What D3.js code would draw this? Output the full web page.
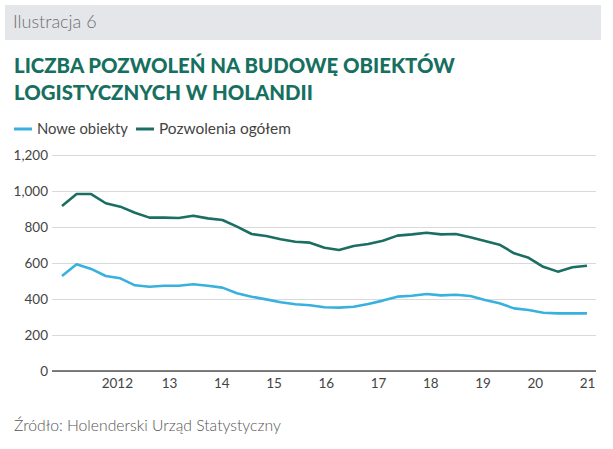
<!DOCTYPE html>
<html>
<head>
<meta charset="utf-8">
<script src="https://cdn.jsdelivr.net/npm/d3@7"></script>
<style>
  body { margin: 0; background: #fff; }
  svg { display: block; }
</style>
</head>
<body>
<script>
// values, one point every ~3.3 months from early 2011 to 2021
const nowe = [528, 593, 567, 528, 515, 476, 468, 474, 474, 482, 474, 463, 432, 413, 398, 382, 371, 365, 354,
              352, 357, 372, 391, 413, 418, 428, 420, 424, 417, 394, 376, 348, 339, 324, 320, 320, 320];
const ogolem = [917, 983, 983, 932, 913, 879, 852, 852, 850, 863, 848, 839, 802, 761, 750, 732, 718, 713, 685,
                672, 694, 706, 724, 752, 759, 768, 759, 761, 743, 722, 702, 654, 629, 579, 552, 576, 585];
const firstPeriod = 2010.95;
const lastPeriod = 2021;

const yTicks = [0, 200, 400, 600, 800, 1000, 1200];
const xTicks = [2012, 2013, 2014, 2015, 2016, 2017, 2018, 2019, 2020, 2021];
const xTickLabels = ['2012', '13', '14', '15', '16', '17', '18', '19', '20', '21'];

const seriesNames = ['Nowe obiekty', 'Pozwolenia ogółem'];
const colors = ['#38b1df', '#1b6f62'];

const width = 613, height = 449;
const margin = {top: 155, right: 17, bottom: 78, left: 52};

const svg = d3.select('body').append('svg')
  .attr('width', width)
  .attr('height', height);

// shrink/grow a text node so it spans w pixels
function fitWidth(sel, size, w) {
  const cur = sel.node().getComputedTextLength();
  sel.attr('font-size', size * w / cur);
}

// header band
svg.append('rect')
  .attr('x', 5).attr('y', 5)
  .attr('width', 596).attr('height', 35)
  .attr('fill', '#e4e6e9');

svg.append('text')
  .attr('x', 13).attr('y', 28)
  .attr('font-family', 'Lato, sans-serif')
  .attr('font-weight', 300)
  .attr('font-size', 18)
  .attr('fill', '#6d6f72')
  .text('Ilustracja 6');

// title, squeezed to the width in the picture
const titleLines = ['LICZBA POZWOLEŃ NA BUDOWĘ OBIEKTÓW', 'LOGISTYCZNYCH W HOLANDII'];
const title = svg.append('g');
titleLines.forEach((t, i) => {
  title.append('text')
    .attr('x', 14).attr('y', 73 + i * 27)
    .attr('font-family', 'Lato, sans-serif')
    .attr('font-weight', 900)
    .attr('font-size', 21)
    .attr('fill', '#17705f')
    .text(t);
});
const firstW = title.select('text').node().getComputedTextLength();
title.selectAll('text').attr('font-size', 21 * 441 / firstW);

// legend
const legendEnds = [128, 291];
const legend = svg.append('g').attr('transform', 'translate(14,129)');
let lx = 0;
seriesNames.forEach((name, i) => {
  legend.append('line')
    .attr('x1', lx).attr('x2', lx + 18)
    .attr('y1', 0).attr('y2', 0)
    .attr('stroke', colors[i]).attr('stroke-width', 3);
  const t = legend.append('text')
    .attr('x', lx + 23).attr('y', 5)
    .attr('font-family', 'Lato, sans-serif')
    .attr('font-size', 14.5)
    .attr('fill', '#444')
    .text(name);
  fitWidth(t, 14.5, legendEnds[i] - 14 - (lx + 23));
  lx = legendEnds[i] - 14 + 8;
});

// scales
const xScale = d3.scaleLinear()
  .domain([firstPeriod, lastPeriod])
  .range([62, 587]);

const yScale = d3.scaleLinear()
  .domain([0, 1200])
  .range([height - margin.bottom, margin.top]);

const step = (lastPeriod - firstPeriod) / (nowe.length - 1);
const period = i => firstPeriod + i * step;

// grid + y axis
const yAxis = d3.axisLeft(yScale)
  .tickValues(yTicks)
  .tickFormat(d3.format(','))
  .tickSize(-(width - margin.right - margin.left))
  .tickPadding(4);

const gy = svg.append('g')
  .attr('transform', `translate(${margin.left},0)`)
  .call(yAxis);
gy.select('.domain').remove();
gy.selectAll('line').attr('stroke', '#d9d9d9');
gy.selectAll('text')
  .attr('font-family', 'Lato, sans-serif')
  .attr('font-size', 13.5)
  .attr('fill', '#444');

// x axis
const xAxis = d3.axisBottom(xScale)
  .tickValues(xTicks)
  .tickFormat((d, i) => xTickLabels[i])
  .tickSize(0)
  .tickPadding(7);

const gx = svg.append('g')
  .attr('transform', `translate(0,${yScale(0)})`)
  .call(xAxis);
gx.select('.domain')
  .attr('d', `M${margin.left},0H${width - margin.right}`)
  .attr('stroke', '#555').attr('stroke-width', 1.3);
gx.selectAll('text')
  .attr('font-family', 'Lato, sans-serif')
  .attr('font-size', 13.5)
  .attr('fill', '#444');

// lines
const line = d3.line()
  .x((d, i) => xScale(period(i)))
  .y(d => yScale(d));

[nowe, ogolem].forEach((s, i) => {
  svg.append('path')
    .datum(s)
    .attr('fill', 'none')
    .attr('stroke', colors[i])
    .attr('stroke-width', 2.6)
    .attr('stroke-linejoin', 'round')
    .attr('d', line);
});

// source
const src = svg.append('text')
  .attr('x', 14).attr('y', 431)
  .attr('font-family', 'Lato, sans-serif')
  .attr('font-weight', 300)
  .attr('font-size', 14.5)
  .attr('fill', '#555')
  .text('Źródło: Holenderski Urząd Statystyczny');
fitWidth(src, 14.5, 267);
</script>
</body>
</html>
